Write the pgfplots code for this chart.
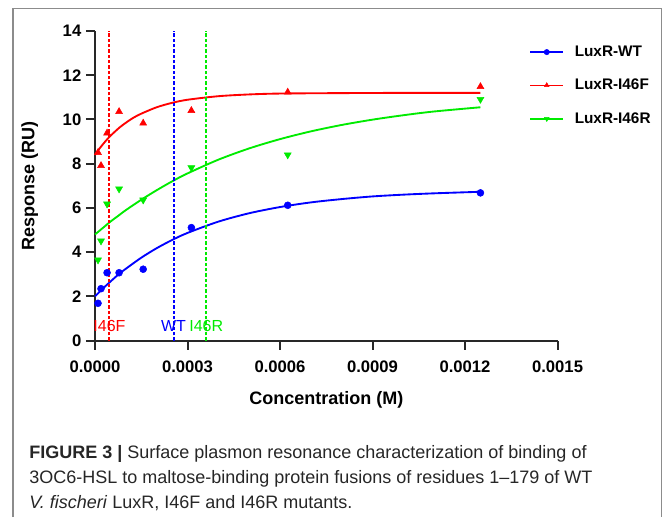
\documentclass[border=0pt]{standalone}
\usepackage{fontspec}
\setmainfont{Liberation Sans}
\usepackage{pgfplots}
\pgfplotsset{compat=1.18}

\definecolor{wtblue}{RGB}{0,0,255}
\definecolor{fred}{RGB}{255,0,0}
\definecolor{rgreen}{RGB}{0,235,0}
\definecolor{axisgray}{RGB}{40,40,40}
\definecolor{framegray}{RGB}{140,140,140}

\begin{document}
\begin{tikzpicture}
% page = 663 x 517 px, 1 px = 0.75 pt
\path[use as bounding box] (0pt,0pt) rectangle (497.25pt,-387.75pt);
\draw[framegray, line width=1pt] (9.75pt,-387.75pt) -- (9.75pt,-6.5pt) -- (496.3pt,-6.5pt) -- (496.3pt,-387.75pt);

\begin{axis}[
  at={(71.25pt,-255.5pt)}, anchor=south west,
  width=346.9pt, height=232.3pt, scale only axis,
  xmin=0, xmax=0.0015, ymin=0, ymax=14,
  axis lines*=left,
  axis line style={line width=1.5pt, axisgray},
  scaled x ticks=false,
  xtick={0,0.0003,0.0006,0.0009,0.0012,0.0015},
  xticklabels={0.0000,0.0003,0.0006,0.0009,0.0012,0.0015},
  ytick={0,2,...,14},
  tick align=outside,
  major tick length=6.75pt,
  tick style={line width=1.5pt, axisgray},
  /pgf/number format/assume math mode=true,
  tick label style={font=\fontsize{12.5}{12.5}\selectfont\bfseries},
  xticklabel style={yshift=-5pt},
  xlabel={Concentration (M)},
  ylabel={Response (RU)},
  label style={font=\fontsize{13.5}{13.5}\selectfont\bfseries},
  xlabel style={at={(axis description cs:0.5,-0.19)}, anchor=center},
  ylabel style={at={(axis description cs:-0.141,0.5)}, anchor=center},
  clip=false,
  legend style={at={(0.93,0.97)}, anchor=north west, draw=none, fill=none,
    font=\fontsize{11.5}{11.5}\selectfont\bfseries, row sep=11.5pt, column sep=6pt},
  legend cell align=left,
  legend image code/.code={
    \draw[solid, line width=1.2pt] (0pt,0pt) -- (24.8pt,0pt);
    \draw[mark size=2pt] plot coordinates {(12.4pt,0pt)};
  },
]

% fitted curves
\addplot[wtblue, line width=1.4pt, smooth, forget plot] coordinates {
  (0,2.00) (0.000025,2.35) (0.00005,2.67) (0.000075,2.98) (0.0001,3.25)
  (0.00015,3.75) (0.0002,4.18) (0.00025,4.55) (0.0003,4.87) (0.0004,5.38)
  (0.0005,5.76) (0.0006,6.04) (0.0007,6.25) (0.0008,6.40) (0.0009,6.52)
  (0.001,6.60) (0.0011,6.66) (0.00125,6.73)
};
\addplot[fred, line width=1.4pt, smooth, forget plot] coordinates {
  (0,8.40) (0.00001,8.60) (0.00002,8.78) (0.00003,8.95) (0.00004,9.11)
  (0.00005,9.26) (0.00006,9.39) (0.00008,9.64) (0.0001,9.85) (0.000125,10.08)
  (0.00015,10.26) (0.0002,10.55) (0.00025,10.75) (0.0003,10.89) (0.0004,11.05)
  (0.0005,11.13) (0.0006,11.17) (0.0008,11.19) (0.001,11.20) (0.00125,11.20)
};
\addplot[rgreen, line width=1.4pt, smooth, forget plot] coordinates {
  (0,4.80) (0.000025,5.09) (0.00005,5.38) (0.000075,5.64) (0.0001,5.90)
  (0.00015,6.37) (0.0002,6.80) (0.00025,7.20) (0.0003,7.56) (0.0004,8.18)
  (0.0005,8.69) (0.0006,9.11) (0.0007,9.46) (0.0008,9.75) (0.0009,9.99)
  (0.001,10.19) (0.0011,10.36) (0.00125,10.55)
};

% dashed lines at the fitted constants
\addplot[fred, line width=1.5pt, dash pattern=on 2.5pt off 1.5pt, forget plot]
  coordinates {(0.0000469,0) (0.0000469,14)};
\addplot[wtblue, line width=1.5pt, dash pattern=on 2.5pt off 1.5pt, forget plot]
  coordinates {(0.0002547,0) (0.0002547,14)};
\addplot[rgreen, line width=1.5pt, dash pattern=on 2.5pt off 1.5pt, forget plot]
  coordinates {(0.0003608,0) (0.0003608,14)};

% measured points
\addplot[wtblue, only marks, mark=*, mark size=2.6pt] coordinates {
  (0.00000977,1.69) (0.0000195,2.35) (0.0000391,3.07) (0.0000781,3.07)
  (0.00015625,3.23) (0.0003125,5.11) (0.000625,6.12) (0.00125,6.68)
};
\addlegendentry{LuxR-WT}
\addplot[fred, only marks, mark=triangle*, mark size=3pt] coordinates {
  (0.00000977,8.50) (0.0000195,7.91) (0.0000391,9.38) (0.0000781,10.35)
  (0.00015625,9.83) (0.0003125,10.40) (0.000625,11.23) (0.00125,11.48)
};
\addlegendentry{LuxR-I46F}
\addplot[rgreen, only marks, mark=triangle*, mark size=3pt, mark options={rotate=180}] coordinates {
  (0.00000977,3.65) (0.0000195,4.51) (0.0000391,6.18) (0.0000781,6.86)
  (0.00015625,6.36) (0.0003125,7.82) (0.000625,8.40) (0.00125,10.91)
};
\addlegendentry{LuxR-I46R}

\node[fred, font=\fontsize{12}{12}\selectfont] at (axis cs:0.0000469,0.68) {I46F};
\node[wtblue, font=\fontsize{12}{12}\selectfont] at (axis cs:0.0002547,0.68) {WT};
\node[rgreen, font=\fontsize{12}{12}\selectfont] at (axis cs:0.0003608,0.68) {I46R};
\end{axis}

% caption
\begin{scope}[black!85, font=\fontsize{13.5}{18}\selectfont]
\node[anchor=base west, inner sep=0pt] at (21.75pt,-343.5pt)
  {\textbf{FIGURE 3 |} Surface plasmon resonance characterization of binding of};
\node[anchor=base west, inner sep=0pt] at (21.75pt,-362.25pt)
  {3OC6-HSL to maltose-binding protein fusions of residues 1–179 of WT};
\node[anchor=base west, inner sep=0pt] at (21.75pt,-381pt)
  {\textit{V. fischeri} LuxR, I46F and I46R mutants.};
\end{scope}
\end{tikzpicture}
\end{document}
